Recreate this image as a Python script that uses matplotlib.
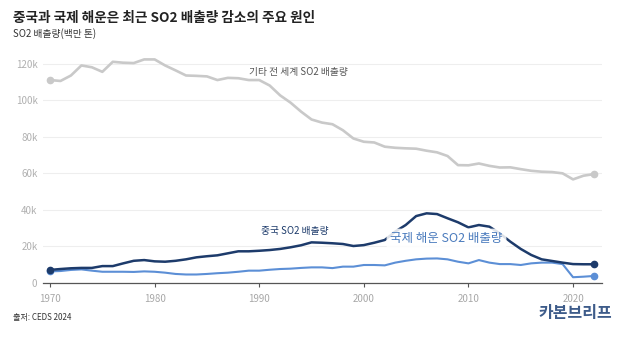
import matplotlib.pyplot as plt
import numpy as np

plt.rcParams['font.family'] = ['Noto Sans CJK KR', 'DejaVu Sans']

years = list(range(1970, 2023))

# SO2 emissions, thousand tonnes
other_world = [111, 110.5, 113.5, 119, 118, 115.5, 121, 120.5, 120.3, 122.3,
               122.3, 119, 116.3, 113.5, 113.3, 113, 111, 112.2, 112, 111,
               111, 108, 102.6, 98.6, 93.7, 89.4, 87.7, 86.8, 83.5, 79,
               77.2, 76.8, 74.5, 73.9, 73.6, 73.4, 72.3, 71.4, 69.4, 64.4,
               64.3, 65.3, 64, 63.1, 63.2, 62.2, 61.3, 60.8, 60.6, 59.9,
               56.6, 58.6, 59.5]
china = [7.0, 7.5, 7.9, 8.1, 8.1, 9.1, 9.1, 10.6, 12.0, 12.4,
         11.7, 11.5, 12.0, 12.8, 13.9, 14.5, 15.0, 16.1, 17.2, 17.2,
         17.5, 17.9, 18.5, 19.4, 20.5, 22.1, 21.9, 21.6, 21.2, 20.1,
         20.6, 21.9, 23.4, 28.0, 31.6, 36.5, 38.0, 37.6, 35.3, 33.1,
         30.3, 31.6, 30.7, 27.0, 22.5, 18.5, 15.2, 12.8, 11.9, 11.0,
         10.2, 10.1, 10.1]
shipping = [6.2, 6.4, 7.0, 7.3, 6.6, 6.0, 6.0, 6.0, 5.9, 6.2,
            6.0, 5.5, 4.8, 4.5, 4.5, 4.8, 5.2, 5.5, 6.0, 6.6,
            6.6, 7.1, 7.5, 7.7, 8.1, 8.4, 8.4, 8.0, 8.8, 8.8,
            9.7, 9.7, 9.5, 11.0, 12.0, 12.8, 13.2, 13.3, 12.8, 11.5,
            10.6, 12.4, 11.0, 10.2, 10.2, 9.7, 10.6, 11.0, 11.0, 10.2,
            3.0, 3.3, 3.7]

y_ticks = [0, 20, 40, 60, 80, 100, 120]
y_tick_labels = ['0', '20k', '40k', '60k', '80k', '100k', '120k']
x_ticks = [1970, 1980, 1990, 2000, 2010, 2020]

grey = '#c9c9c9'
navy = '#1d3b6b'
blue = '#5c8fd6'

fig = plt.figure(figsize=(6.2, 3.37), dpi=100)
ax = fig.add_axes([0.0694, 0.1611, 0.9016, 0.6772])

for vals, col, lw in [(other_world, grey, 1.9), (shipping, blue, 1.5), (china, navy, 1.8)]:
    ax.plot(years, vals, color=col, lw=lw, solid_capstyle='round', zorder=3)
    ax.plot([years[0], years[-1]], [vals[0], vals[-1]], 'o', color=col, ms=4.5, zorder=4)

ax.set_xlim(1969.33, 2022.77)
ax.set_ylim(0, 125)
ax.set_yticks(y_ticks)
ax.set_yticklabels(y_tick_labels)
ax.set_xticks(x_ticks)
ax.grid(axis='y', color='#eeeeee', lw=0.8)
ax.set_axisbelow(True)
for s in ['top', 'right', 'left']:
    ax.spines[s].set_visible(False)
ax.spines['bottom'].set_color('#555555')
ax.spines['bottom'].set_linewidth(0.9)
ax.tick_params(axis='y', length=0, labelsize=7, labelcolor='#b0b0b0', pad=4)
ax.tick_params(axis='x', length=3, color='#555555', labelsize=7, labelcolor='#a8a8a8', pad=5)

# series labels
ax.text(1993.7, 115.2, '기타 전 세계 SO2 배출량', fontsize=7, color='#555555',
        ha='center', va='center', zorder=5)
ax.text(1993.4, 28.5, '중국 SO2 배출량', fontsize=7, color=navy, ha='center', va='center',
        zorder=5, bbox=dict(boxstyle='round,pad=0.25', fc='white', ec='none', alpha=0.8))
ax.text(2007.9, 24.0, '국제 해운 SO2 배출량', fontsize=9, color='#4a7bbd', ha='center',
        va='center', zorder=5,
        bbox=dict(boxstyle='round,pad=0.3', fc='white', ec='none', alpha=0.85))

fig.text(0.021, 0.948, '중국과 국제 해운은 최근 SO2 배출량 감소의 주요 원인', fontsize=9.8,
         fontweight='bold', color='#222222', ha='left', va='center')
fig.text(0.021, 0.90, 'SO2 배출량(백만 톤)', fontsize=7, color='#333333', ha='left', va='center')
fig.text(0.021, 0.057, '출처: CEDS 2024', fontsize=5.8, color='#333333', ha='left', va='center')
fig.text(0.987, 0.07, '카본브리프', fontsize=11.5, fontweight='bold', color='#3e5c8a',
         ha='right', va='center')

plt.savefig('out.png', dpi=100)
